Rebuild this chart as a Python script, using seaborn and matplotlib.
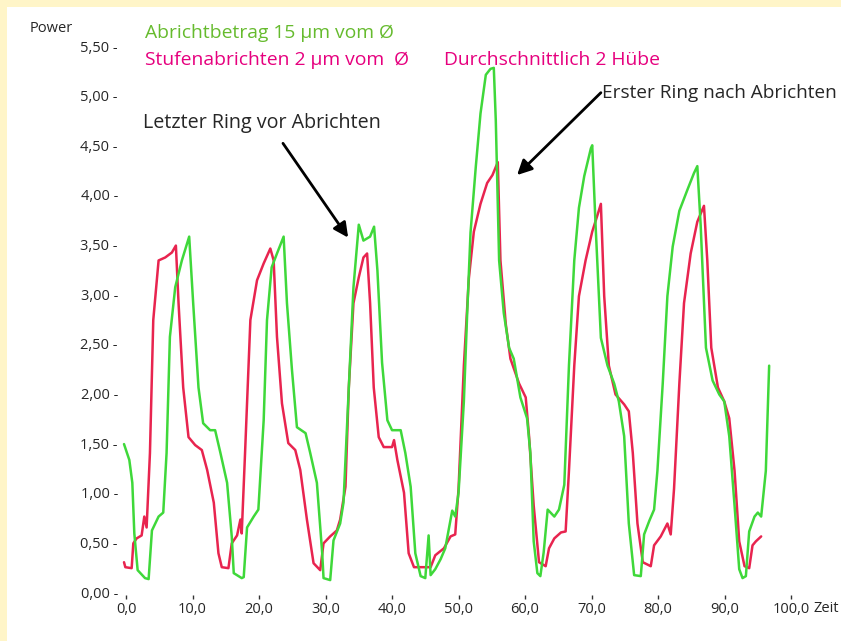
import matplotlib
matplotlib.use("Agg")
import matplotlib.pyplot as plt
import matplotlib.patches as mpatches
import seaborn as sns
import pandas as pd

# Abrichtbetrag 15 µm (green trace)
green_x = [-0.3, 0.5, 0.95, 1.25, 1.75, 2.86, 3.4, 3.9, 4.9, 5.6, 6.1, 6.6, 7.4, 8.4, 9.5,
           10.1, 10.9, 11.6, 12.65, 13.4, 14.2, 15.2, 15.9, 16.2, 17.4, 17.7, 18.2, 19.2, 19.9,
           20.7, 21.2, 21.9, 22.7, 23.7, 24.2, 24.95, 25.7, 27.0, 27.7, 28.7, 29.5, 29.7, 30.7,
           31.2, 32.2, 32.7, 33.5, 34.2, 35.0, 35.7, 36.7, 37.3, 37.8, 38.5, 39.3, 40.0, 41.3,
           42.0, 42.8, 43.5, 44.3, 45.0, 45.5, 45.8, 46.5, 47.3, 48.0, 49.05, 49.5, 50.0, 50.8,
           51.3, 51.8, 52.6, 53.3, 54.1, 54.8, 55.3, 55.6, 56.1, 56.8, 57.6, 58.3, 59.3, 60.3,
           60.8, 61.3, 61.85, 62.3, 62.8, 63.4, 64.4, 65.1, 65.9, 66.6, 67.4, 68.1, 68.9, 69.9,
           70.1, 70.6, 71.4, 72.4, 73.4, 74.1, 74.9, 75.6, 76.4, 77.4, 77.9, 78.7, 79.4, 79.9,
           80.7, 81.4, 82.2, 83.2, 84.4, 85.4, 85.9, 86.4, 87.2, 88.2, 89.2, 89.95, 90.7, 91.5,
           92.2, 92.7, 93.2, 93.7, 94.5, 95.0, 95.5, 96.2, 96.7]
green_y = [1.49, 1.33, 1.10, 0.59, 0.22, 0.14, 0.13, 0.62, 0.76, 0.80, 1.40, 2.57, 3.07, 3.34, 3.58,
           2.91, 2.06, 1.70, 1.63, 1.63, 1.40, 1.10, 0.56, 0.19, 0.14, 0.15, 0.65, 0.76, 0.83,
           1.73, 2.74, 3.27, 3.41, 3.58, 2.91, 2.24, 1.66, 1.60, 1.40, 1.10, 0.39, 0.14, 0.12,
           0.52, 0.69, 0.90, 2.06, 3.07, 3.70, 3.54, 3.58, 3.68, 3.24, 2.31, 1.73, 1.63, 1.63,
           1.40, 1.06, 0.39, 0.16, 0.14, 0.57, 0.17, 0.23, 0.33, 0.44, 0.82, 0.76, 1.00, 1.92,
           2.81, 3.62, 4.29, 4.82, 5.21, 5.27, 5.28, 4.75, 3.34, 2.81, 2.46, 2.35, 1.96, 1.75,
           1.40, 0.51, 0.19, 0.16, 0.40, 0.83, 0.76, 0.83, 1.08, 2.28, 3.34, 3.87, 4.19, 4.47,
           4.50, 3.70, 2.56, 2.28, 2.10, 1.92, 1.57, 0.69, 0.17, 0.16, 0.58, 0.72, 0.83, 1.22,
           2.10, 2.98, 3.48, 3.84, 4.05, 4.22, 4.29, 3.70, 2.46, 2.13, 1.99, 1.92, 1.57, 0.87,
           0.23, 0.14, 0.16, 0.61, 0.76, 0.80, 0.76, 1.22, 2.28]

# Stufenabrichten 2 µm (red trace)
red_x = [-0.3, -0.1, 0.85, 1.1, 1.6, 2.35, 2.75, 3.1, 3.6, 4.1, 4.9, 5.9, 6.9, 7.5, 7.9, 8.6,
         9.4, 10.4, 11.4, 12.2, 13.2, 13.9, 14.4, 15.4, 15.9, 16.7, 17.2, 17.4, 17.9, 18.7, 19.7,
         20.7, 21.7, 22.2, 22.7, 23.45, 24.4, 25.45, 26.2, 27.2, 28.2, 29.2, 29.7, 30.7, 31.7,
         32.2, 33.0, 33.5, 34.2, 35.0, 35.7, 36.25, 36.7, 37.25, 38.0, 38.75, 40.0, 40.3, 40.8,
         41.8, 42.5, 43.3, 45.8, 46.5, 47.8, 48.8, 49.5, 50.0, 50.8, 51.55, 52.3, 53.3, 54.3,
         55.1, 55.9, 56.3, 57.1, 57.8, 59.1, 60.1, 60.6, 61.3, 62.1, 63.1, 63.6, 64.4, 65.4,
         66.1, 66.6, 67.4, 68.1, 69.1, 70.1, 70.9, 71.4, 71.9, 72.6, 73.6, 74.9, 75.6, 76.2,
         76.9, 77.7, 78.9, 79.4, 80.4, 81.4, 81.9, 82.4, 83.2, 83.9, 84.9, 85.9, 86.9, 87.4,
         88.0, 89.0, 89.95, 90.7, 91.5, 92.2, 93.0, 93.7, 94.2, 94.7, 95.5]
red_y = [0.30, 0.25, 0.24, 0.49, 0.54, 0.57, 0.76, 0.65, 1.40, 2.74, 3.34, 3.37, 3.42, 3.49, 2.91, 2.06,
         1.56, 1.48, 1.43, 1.23, 0.90, 0.39, 0.25, 0.24, 0.49, 0.57, 0.73, 0.59, 1.40, 2.74, 3.14,
         3.31, 3.46, 3.34, 2.57, 1.90, 1.50, 1.43, 1.23, 0.73, 0.29, 0.22, 0.49, 0.56, 0.62,
         0.73, 1.06, 2.06, 2.91, 3.17, 3.37, 3.41, 2.91, 2.06, 1.56, 1.46, 1.46, 1.53, 1.33,
         1.00, 0.39, 0.25, 0.25, 0.37, 0.44, 0.56, 0.58, 1.04, 2.28, 3.16, 3.63, 3.91, 4.12,
         4.20, 4.33, 3.34, 2.70, 2.35, 2.10, 1.96, 1.57, 0.87, 0.30, 0.26, 0.44, 0.54, 0.60,
         0.61, 1.22, 2.28, 2.98, 3.34, 3.63, 3.80, 3.91, 2.98, 2.28, 1.99, 1.89, 1.82, 1.40,
         0.69, 0.30, 0.26, 0.47, 0.56, 0.69, 0.58, 1.04, 2.10, 2.91, 3.41, 3.73, 3.89, 3.34,
         2.46, 2.06, 1.92, 1.75, 1.22, 0.51, 0.26, 0.24, 0.47, 0.51, 0.56]

y_ticks = [0.0, 0.5, 1.0, 1.5, 2.0, 2.5, 3.0, 3.5, 4.0, 4.5, 5.0, 5.5]
x_ticks = [0, 10, 20, 30, 40, 50, 60, 70, 80, 90, 100]

GREEN_LINE = "#3fd83a"
RED_LINE = "#e8244f"
GREEN_TEXT = "#66bb2e"
MAGENTA_TEXT = "#e6007e"

sns.set_style("white")
plt.rcParams['font.family'] = ['Open Sans', 'DejaVu Sans']

fig = plt.figure(figsize=(8.41, 6.41), dpi=100)
fig.patch.set_facecolor("#fff5c8")
# white panel inside the yellow frame
fig.patches.append(mpatches.Rectangle((7 / 841, 0), 1, 1 - 7 / 641,
                                      transform=fig.transFigure, facecolor="white",
                                      edgecolor="none", zorder=-5))

ax = fig.add_axes([119.35 / 841, 49 / 641, 705.0 / 841, 555.9 / 641])
ax.set_facecolor("none")
ax.set_zorder(1)

green = pd.DataFrame({"Zeit": green_x, "Power": green_y})
red = pd.DataFrame({"Zeit": red_x, "Power": red_y})
sns.lineplot(data=red, x="Zeit", y="Power", sort=False, color=RED_LINE, lw=1.8, ax=ax)
sns.lineplot(data=green, x="Zeit", y="Power", sort=False, color=GREEN_LINE, lw=1.8, ax=ax)

ax.set_xlim(-1, 105)
ax.set_ylim(0, 5.6)
ax.set_xlabel("")
ax.set_ylabel("")
for s in ax.spines.values():
    s.set_visible(False)
ax.spines['bottom'].set_position(('outward', 2))

ax.set_yticks(y_ticks)
ax.set_yticklabels([f"{v:.2f} -".replace(".", ",") for v in y_ticks], fontsize=10.5)
ax.set_xticks(x_ticks)
ax.set_xticklabels([f"{v:.1f}".replace(".", ",") for v in x_ticks], fontsize=10.5)
ax.tick_params(axis='y', length=0, pad=1)
ax.tick_params(axis='x', bottom=True, length=3, width=1, direction='out', pad=2.5,
               color='#333333')

fig.text(30 / 841, 1 - 28 / 641, "Power", fontsize=10.5, va='center', ha='left')
fig.text(826 / 841, 1 - 609 / 641, "Zeit", fontsize=10.5, va='center', ha='center')

fig.text(145 / 841, 1 - 33 / 641, "Abrichtbetrag 15 µm vom Ø", color=GREEN_TEXT,
         fontsize=13.9, va='center', ha='left')
fig.text(145 / 841, 1 - 60 / 641, "Stufenabrichten 2 µm vom  Ø", color=MAGENTA_TEXT,
         fontsize=13.9, va='center', ha='left')
fig.text(444 / 841, 1 - 60 / 641, "Durchschnittlich 2 Hübe", color=MAGENTA_TEXT,
         fontsize=13.9, va='center', ha='left')

# annotation texts
ax.text(2.6, 4.72, "Letzter Ring vor Abrichten", fontsize=14.2, ha='left', va='center')
ax.text(71.6, 5.03, "Erster Ring nach Abrichten", fontsize=13.7, ha='left', va='center',
        clip_on=False)

# arrows
arrow_kw = dict(arrowstyle='-|>', color='black', lw=2, mutation_scale=22,
                shrinkA=0, shrinkB=0)
ax.annotate("", xy=(33.4, 3.57), xytext=(23.6, 4.52), arrowprops=arrow_kw)
ax.annotate("", xy=(58.8, 4.20), xytext=(71.4, 5.03), arrowprops=arrow_kw)

fig.savefig("out.png", dpi=100)
